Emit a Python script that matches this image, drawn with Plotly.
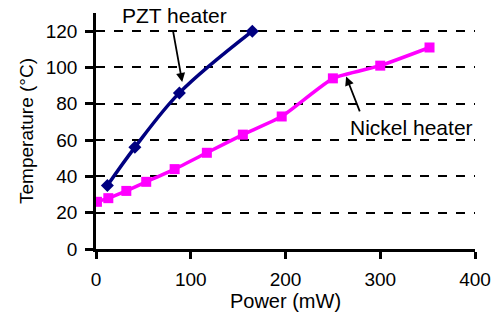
import plotly.graph_objects as go

pzt_power = [12, 41, 88, 165]
pzt_temp = [35, 56, 86, 120]
ni_power = [1, 13, 32, 53, 83, 117, 155, 196, 250, 300, 352]
ni_temp = [26, 28, 32, 37, 44, 53, 63, 73, 94, 101, 111]
x_ticks = [0, 100, 200, 300, 400]
y_ticks = [0, 20, 40, 60, 80, 100, 120]

fig = go.Figure()
fig.add_trace(go.Scatter(x=ni_power, y=ni_temp, mode="lines+markers",
                         line=dict(color="#FF00FF", width=3.5, shape="spline", smoothing=0.4),
                         marker=dict(symbol="square", size=10, color="#FF00FF")))
fig.add_trace(go.Scatter(x=pzt_power, y=pzt_temp, mode="lines+markers",
                         line=dict(color="#000080", width=3.5, shape="spline", smoothing=1),
                         marker=dict(symbol="diamond", size=10, color="#000080")))

font = dict(family="Liberation Sans, Arial, sans-serif", size=19, color="black")
fig.update_layout(
    width=504, height=320, margin=dict(l=96, r=29, t=13, b=71),
    plot_bgcolor="white", paper_bgcolor="white", showlegend=False, font=font,
    xaxis=dict(range=[0, 400], tickvals=x_ticks, showgrid=False, zeroline=False,
               showline=True, linecolor="black", linewidth=2.5,
               ticks="outside", ticklen=7, tickwidth=2.5, tickcolor="black",
               ticklabelstandoff=4,
               title=dict(text="Power (mW)", font=dict(size=20), standoff=2)),
    yaxis=dict(range=[0, 130], tickvals=y_ticks, showgrid=True, gridcolor="black",
               griddash="dash", gridwidth=1.5, zeroline=False,
               showline=True, linecolor="black", linewidth=2.5,
               ticks="outside", ticklen=8, tickwidth=2.5, tickcolor="black",
               ticklabelstandoff=4,
               title=dict(text="Temperature (°C)", font=dict(size=19), standoff=8)),
)

fig.add_annotation(x=91, y=92, ax=81, ay=121, xref="x", yref="y", axref="x", ayref="y",
                   text="", showarrow=True, arrowhead=2, arrowsize=1, arrowwidth=1.8, arrowcolor="black")
fig.add_annotation(x=83, y=128.5, xref="x", yref="y", text="PZT heater", showarrow=False,
                   font=dict(size=21))
fig.add_annotation(x=264, y=95, ax=279, ay=75, xref="x", yref="y", axref="x", ayref="y",
                   text="", showarrow=True, arrowhead=2, arrowsize=1, arrowwidth=1.8, arrowcolor="black")
fig.add_annotation(x=333, y=67, xref="x", yref="y", text="Nickel heater", showarrow=False,
                   font=dict(size=21))

fig.write_html("out.html")
